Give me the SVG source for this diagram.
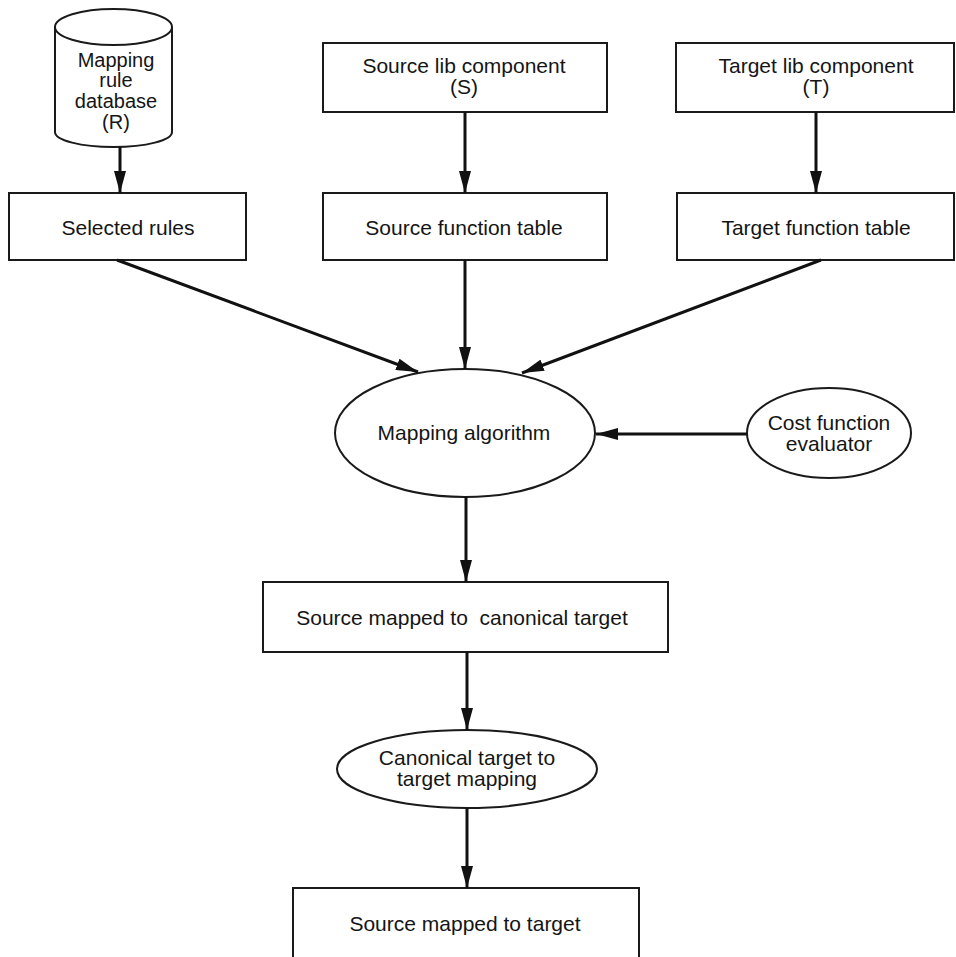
<svg xmlns="http://www.w3.org/2000/svg" width="956" height="957" viewBox="0 0 956 957">
<style>
  .box { fill: #fff; stroke: #1a1a1a; stroke-width: 2; }
  .lbl { font-family: "Liberation Sans", Arial, sans-serif; font-size: 21px; fill: #151515; text-anchor: middle; }
  .cyl { font-size: 20px; }
  .edge { stroke: #111; stroke-width: 3; fill: none; marker-end: url(#ah); }
</style>
<defs>
  <marker id="ah" viewBox="0 0 22 12" refX="22" refY="6" markerWidth="22" markerHeight="12" markerUnits="userSpaceOnUse" orient="auto">
    <path d="M0,0 L22,6 L0,12 Z" fill="#111"/>
  </marker>
</defs>
<rect width="956" height="957" fill="#fff"/>

<g id="mapping-rule-database">
  <path class="box" d="M55,27 L55,132 A58.5,15 0 0 0 172,132 L172,27"/>
  <ellipse class="box" cx="113.5" cy="27" rx="58.5" ry="18"/>
  <text class="lbl cyl" x="116" y="67">Mapping</text>
  <text class="lbl cyl" x="116" y="87">rule</text>
  <text class="lbl cyl" x="116" y="108">database</text>
  <text class="lbl cyl" x="116" y="129">(R)</text>
</g>

<g id="source-lib-component">
  <rect class="box" x="323" y="43" width="284" height="69"/>
  <text class="lbl" x="464" y="73">Source lib component</text>
  <text class="lbl" x="464" y="94">(S)</text>
</g>

<g id="target-lib-component">
  <rect class="box" x="676" y="43" width="278" height="69"/>
  <text class="lbl" x="816" y="73">Target lib component</text>
  <text class="lbl" x="816" y="94">(T)</text>
</g>

<g id="selected-rules">
  <rect class="box" x="9" y="193" width="237" height="67"/>
  <text class="lbl" x="128" y="235">Selected rules</text>
</g>

<g id="source-function-table">
  <rect class="box" x="323" y="193" width="284" height="67"/>
  <text class="lbl" x="464" y="235">Source function table</text>
</g>

<g id="target-function-table">
  <rect class="box" x="677" y="193" width="277" height="67"/>
  <text class="lbl" x="816" y="235">Target function table</text>
</g>

<g id="mapping-algorithm">
  <ellipse class="box" cx="465" cy="433" rx="130" ry="64"/>
  <text class="lbl" x="464" y="440">Mapping algorithm</text>
</g>

<g id="cost-function-evaluator">
  <ellipse class="box" cx="829" cy="433" rx="82" ry="45"/>
  <text class="lbl" x="829" y="430">Cost function</text>
  <text class="lbl" x="829" y="451">evaluator</text>
</g>

<g id="source-mapped-to-canonical-target">
  <rect class="box" x="263" y="582" width="405" height="70"/>
  <text class="lbl" x="462" y="625" xml:space="preserve">Source mapped to  canonical target</text>
</g>

<g id="canonical-target-to-target-mapping">
  <ellipse class="box" cx="467" cy="769" rx="130" ry="39"/>
  <text class="lbl" x="467" y="765">Canonical target to</text>
  <text class="lbl" x="467" y="786">target mapping</text>
</g>

<g id="source-mapped-to-target">
  <rect class="box" x="293" y="888" width="346" height="75"/>
  <text class="lbl" x="465" y="931">Source mapped to target</text>
</g>

<g id="connectors">
  <line class="edge" x1="120" y1="147" x2="120" y2="193"/>
  <line class="edge" x1="465" y1="112" x2="465" y2="193"/>
  <line class="edge" x1="816" y1="112" x2="816" y2="193"/>
  <line class="edge" x1="117" y1="260" x2="418" y2="372"/>
  <line class="edge" x1="465" y1="260" x2="465" y2="369"/>
  <line class="edge" x1="821" y1="260" x2="522" y2="373"/>
  <line class="edge" x1="747" y1="434" x2="596" y2="434"/>
  <line class="edge" x1="466" y1="497" x2="466" y2="582"/>
  <line class="edge" x1="467" y1="652" x2="467" y2="730"/>
  <line class="edge" x1="467" y1="808" x2="467" y2="888"/>
</g>
</svg>
